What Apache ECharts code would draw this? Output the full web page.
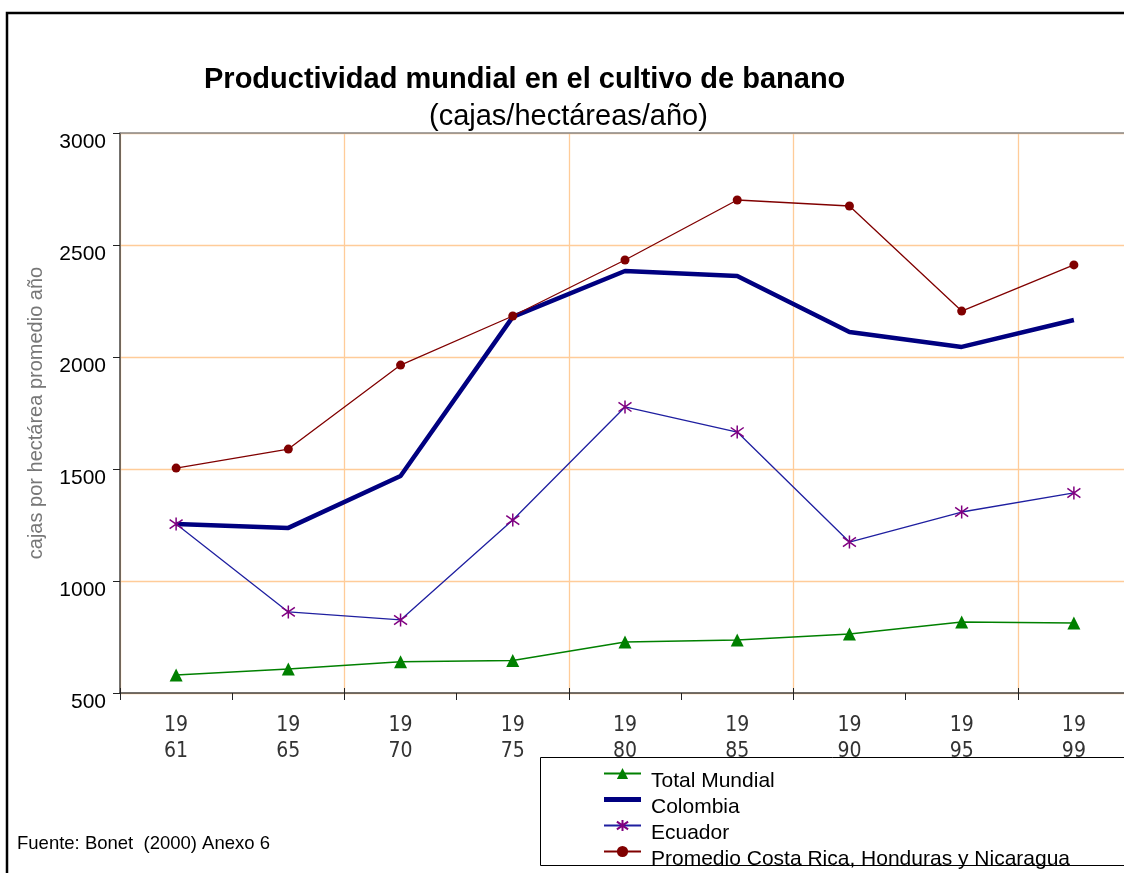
<!DOCTYPE html>
<html>
<head>
<meta charset="utf-8">
<script src="https://cdn.jsdelivr.net/npm/echarts@6/dist/echarts.min.js"></script>
<style>
  html, body { margin: 0; padding: 0; background: #fff; }
  #chart { width: 1124px; height: 873px; }
</style>
</head>
<body>
<div id="chart"></div>
<script>
  const years = ['1961', '1965', '1970', '1975', '1980', '1985', '1990', '1995', '1999'];
  const totalMundial = [580, 607, 640, 645, 728, 737, 763, 817, 812];
  const colombia = [1254, 1237, 1469, 2179, 2384, 2362, 2112, 2045, 2165];
  const ecuador = [1254, 862, 826, 1272, 1777, 1665, 1174, 1308, 1393];
  const promedio = [1504, 1589, 1964, 2183, 2433, 2701, 2674, 2205, 2411];

  const font = "'Liberation Sans', Arial, sans-serif";
  const narrow = "'Liberation Sans Narrow', 'DejaVu Sans Condensed', 'Arial Narrow', sans-serif";
  const orange = '#FFCC99';

  // asterisk marker for Ecuador
  const asterisk = 'path://M0,-10 L0,10 M-7,-7 L7,7 M-7,7 L7,-7';

  const option = {
    animation: false,
    backgroundColor: '#fff',
    title: [
      {
        text: 'Productividad mundial en el cultivo de banano',
        left: 204, top: 65, padding: 0,
        textStyle: { fontFamily: font, fontSize: 29, fontWeight: 'bold', color: '#000' }
      },
      {
        text: '(cajas/hectáreas/año)',
        left: 429, top: 102, padding: 0,
        textStyle: { fontFamily: font, fontSize: 29, fontWeight: 'normal', color: '#000' }
      }
    ],
    legend: {
      orient: 'vertical',
      left: 603, top: 758, padding: 0,
      itemWidth: 37, itemHeight: 14, itemGap: -8,
      selectedMode: false,
      // text sits a bit below its key, as in the original
      formatter: name => '{s| }\n{t|' + name + '}',
      textStyle: {
        fontFamily: font, fontSize: 21, color: '#000',
        rich: {
          s: { fontSize: 10, lineHeight: 16 },
          t: { fontFamily: font, fontSize: 21, lineHeight: 21, color: '#000', padding: [0, 0, 0, 5] }
        }
      },
      data: [
        'Total Mundial',
        { name: 'Colombia', icon: 'path://M0,0 H37 V5 H0 Z' },
        'Ecuador',
        'Promedio Costa Rica, Honduras y Nicaragua'
      ]
    },
    grid: { left: 120, top: 133, width: 1010, height: 560, containLabel: false, outerBoundsMode: 'none' },
    xAxis: [
      {
        type: 'category',
        data: years,
        boundaryGap: true,
        axisLine: { lineStyle: { color: '#444', width: 1.5 } },
        axisTick: { show: true, interval: 0, length: 7, lineStyle: { color: '#222' } },
        axisLabel: {
          interval: 0, margin: 20,
          fontFamily: narrow, fontSize: 21, lineHeight: 26, color: '#333',
          formatter: v => v.slice(0, 2) + '\n' + v.slice(2)
        },
        splitLine: { show: true, interval: 1, lineStyle: { color: orange, width: 1.3 } }
      },
      {
        type: 'category',
        data: years,
        position: 'bottom',
        boundaryGap: true,
        axisLine: { show: false },
        axisLabel: { show: false },
        axisTick: { show: true, inside: true, interval: 1, length: 5, lineStyle: { color: '#222' } },
        splitLine: { show: false }
      }
    ],
    yAxis: {
      type: 'value',
      min: 500, max: 3000, interval: 500,
      name: 'cajas por hectárea promedio año',
      nameLocation: 'middle',
      nameGap: 74,
      nameTextStyle: { fontFamily: font, fontSize: 20, color: '#777' },
      axisLine: { show: true, lineStyle: { color: '#444', width: 1.5 } },
      axisTick: { show: true, length: 7, lineStyle: { color: '#222' } },
      axisLabel: {
        fontFamily: font, fontSize: 21, color: '#000', margin: 14,
        verticalAlign: 'top', lineHeight: 19,
        formatter: v => String(v)
      },
      splitLine: { show: true, lineStyle: { color: orange, width: 1.3 } }
    },
    graphic: [
      {
        type: 'rect', silent: true, z: 100,
        shape: { x: 7, y: 13, width: 1200, height: 900 },
        style: { fill: 'none', stroke: '#000', lineWidth: 2.5 }
      },
      {
        // plot area top frame
        type: 'line', silent: true, z: 50,
        shape: { x1: 120, y1: 133, x2: 1130, y2: 133 },
        style: { stroke: '#888', lineWidth: 1.5 }
      },
      {
        type: 'rect', silent: true, z: 90,
        shape: { x: 540.5, y: 757.5, width: 700, height: 108 },
        style: { fill: 'none', stroke: '#000', lineWidth: 1 }
      },
      {
        type: 'text', left: 17, top: 834,
        style: { text: 'Fuente: Bonet  (2000) Anexo 6', font: '18.5px ' + font, fill: '#000' }
      }
    ],
    series: [
      {
        name: 'Total Mundial',
        type: 'line',
        data: totalMundial,
        symbol: 'triangle',
        symbolSize: 13,
        itemStyle: { color: '#008000' },
        lineStyle: { color: '#008000', width: 1.5 }
      },
      {
        name: 'Colombia',
        type: 'line',
        data: colombia,
        symbol: 'none',
        itemStyle: { color: '#000080' },
        lineStyle: { color: '#000080', width: 4.5 }
      },
      {
        name: 'Ecuador',
        type: 'line',
        data: ecuador,
        symbol: asterisk,
        symbolSize: 13,
        itemStyle: { color: 'rgba(0,0,0,0)', borderColor: '#800080', borderWidth: 1.5 },
        lineStyle: { color: '#1f1fa0', width: 1.3 }
      },
      {
        name: 'Promedio Costa Rica, Honduras y Nicaragua',
        type: 'line',
        data: promedio,
        symbol: 'circle',
        symbolSize: 9,
        itemStyle: { color: '#800000' },
        lineStyle: { color: '#800000', width: 1.3 }
      }
    ]
  };

  const chart = echarts.init(document.getElementById('chart'));
  chart.setOption(option);
</script>
</body>
</html>
